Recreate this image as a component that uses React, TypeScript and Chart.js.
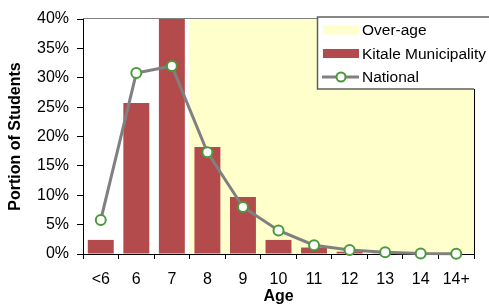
import { useEffect, useRef } from "react";
import { Chart, registerables } from "chart.js";
Chart.register(...registerables);

const categories = ["<6", "6", "7", "8", "9", "10", "11", "12", "13", "14", "14+"];
const kitale = [2.4, 25.7, 40, 18.2, 9.7, 2.4, 1.1, 0.4, 0.05, 0, 0];
const national = [5.8, 30.8, 32.0, 17.3, 8.0, 4.0, 1.5, 0.7, 0.3, 0.1, 0.05];
const overAge = [null, null, null, 40, 40, 40, 40, 40, 40, 40, 40];
const yMin = 0;
const yMax = 40;
const yStep = 5;

const FONT = "'Liberation Sans', Arial, sans-serif";

const framePlugin = {
  id: "frame",
  afterDatasetsDraw(chart: any) {
    const { ctx, chartArea } = chart;
    const { left, right, top, bottom } = chartArea;
    ctx.save();
    ctx.lineWidth = 1;
    ctx.strokeStyle = "#808080";
    ctx.beginPath();
    ctx.moveTo(left, top - 0.5);
    ctx.lineTo(right + 1, top - 0.5);
    ctx.stroke();
    ctx.strokeStyle = "#000";
    ctx.beginPath();
    ctx.moveTo(right + 0.5, top);
    ctx.lineTo(right + 0.5, bottom);
    ctx.stroke();
    ctx.restore();
  },
};

const legendPlugin = {
  id: "boxLegend",
  afterDraw(chart: any) {
    const { ctx } = chart;
    const ds = chart.data.datasets;
    const bx = 317.5;
    const by = 17;
    const bw = 200;
    const bh = 72;
    ctx.save();
    ctx.fillStyle = "#fff";
    ctx.fillRect(bx, by, bw, bh);
    ctx.strokeStyle = "#606060";
    ctx.lineWidth = 1.5;
    ctx.beginPath();
    ctx.moveTo(489, by);
    ctx.lineTo(bx, by);
    ctx.lineTo(bx, by + bh);
    ctx.lineTo(474, by + bh);
    ctx.stroke();

    const rows = [30, 53.5, 77];
    const sx = 323;
    const sw = 36;
    // Over-age swatch
    ctx.fillStyle = ds[0].backgroundColor;
    ctx.fillRect(sx, rows[0] - 4.5, sw, 9);
    // Kitale swatch
    ctx.fillStyle = ds[1].backgroundColor;
    ctx.fillRect(sx, rows[1] - 4.5, sw, 9);
    // National line
    ctx.strokeStyle = ds[2].borderColor;
    ctx.lineWidth = 3;
    ctx.beginPath();
    ctx.moveTo(sx - 1, rows[2]);
    ctx.lineTo(sx + sw, rows[2]);
    ctx.stroke();
    ctx.beginPath();
    ctx.arc(sx + sw / 2, rows[2], 4.5, 0, Math.PI * 2);
    ctx.fillStyle = "#fff";
    ctx.fill();
    ctx.strokeStyle = ds[2].pointBorderColor;
    ctx.lineWidth = 2;
    ctx.stroke();

    ctx.fillStyle = "#000";
    ctx.font = `15.5px ${FONT}`;
    ctx.textBaseline = "middle";
    ctx.textAlign = "left";
    for (let i = 0; i < 3; i++) {
      ctx.fillText(ds[i].label, 362, rows[i] + 1);
    }
    ctx.restore();
  },
};

export default function App() {
  const ref = useRef<HTMLCanvasElement>(null);
  useEffect(() => {
    if (!ref.current) return;
    Chart.defaults.font.family = FONT;
    Chart.defaults.color = "#000";
    const chart = new Chart(ref.current, {
      type: "bar",
      data: {
        labels: categories,
        datasets: [
          {
            type: "bar",
            label: "Over-age",
            data: overAge as any,
            backgroundColor: "#FFFFCC",
            barPercentage: 1,
            categoryPercentage: 1,
            grouped: false,
            order: 3,
          } as any,
          {
            type: "bar",
            label: "Kitale Municipality",
            data: kitale,
            backgroundColor: "#B34A4C",
            barPercentage: 0.73,
            categoryPercentage: 1,
            grouped: false,
            order: 2,
          } as any,
          {
            type: "line",
            label: "National",
            data: national,
            borderColor: "#808080",
            borderWidth: 3,
            pointRadius: 5,
            pointBorderWidth: 2,
            pointBackgroundColor: "#ffffff",
            pointBorderColor: "#4A9A3A",
            tension: 0,
            clip: false,
            order: 1,
          } as any,
        ],
      },
      options: {
        animation: false,
        responsive: false,
        layout: { padding: { top: 19, right: 15, left: 0, bottom: 0 } },
        plugins: { legend: { display: false }, tooltip: { enabled: false } },
        scales: {
          x: {
            grid: { drawOnChartArea: false, drawTicks: true, tickLength: 5, color: "#000", offset: true },
            border: { color: "#000" },
            ticks: { font: { size: 16 }, color: "#000", padding: 11, maxRotation: 0, autoSkip: false },
            title: { display: true, text: "Age", font: { size: 16, weight: "bold" }, color: "#000", padding: { top: 0, bottom: 0 } },
            afterFit: (s: any) => { s.height = 52; },
          },
          y: {
            min: yMin,
            max: yMax,
            grid: { drawOnChartArea: false, drawTicks: true, tickLength: 6, color: "#000" },
            border: { color: "#000" },
            ticks: { stepSize: yStep, font: { size: 16 }, color: "#000", padding: 8, callback: (v: any) => v + "%" },
            title: { display: true, text: "Portion of Students", font: { size: 16, weight: "bold" }, color: "#000", padding: { top: 6, bottom: 0 } },
            afterFit: (s: any) => { s.width = 83; },
          },
        },
      } as any,
      plugins: [framePlugin, legendPlugin],
    });
    return () => chart.destroy();
  }, []);
  return (
    <div style={{ position: "fixed", left: 0, top: 0, width: 489, height: 306 }}>
      <canvas ref={ref} width={489} height={306} />
    </div>
  );
}
